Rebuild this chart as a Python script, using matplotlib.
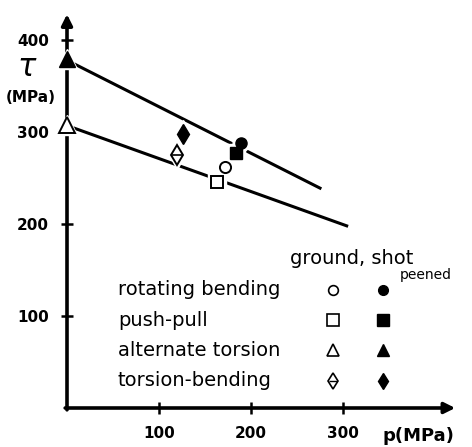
import matplotlib
matplotlib.use("Agg")
import matplotlib.pyplot as plt

# fatigue limit tau vs hydrostatic pressure p (MPa)
kinds = ["rotating bending", "push-pull", "alternate torsion", "torsion-bending"]
ground_p = [172, 163, 0, 120]
ground_tau = [262, 246, 308, 275]
peened_p = [189, 184, 0, 126]
peened_tau = [288, 277, 379, 298]

# hand-drawn trend lines
upper_p = [0, 275]
upper_tau = [378, 239]
lower_p = [0, 304]
lower_tau = [307, 198]

xticks = [100, 200, 300]
yticks = [100, 200, 300, 400]

open_style = [("o", 8), ("s", 9), ("^", 11), ("d", 10)]
key_size = [("o", 7), ("s", 9), ("^", 9), ("d", 8)]

fig = plt.figure(figsize=(4.72, 4.47), dpi=100)
ax = fig.add_axes([67 / 472, 39 / 447, 395 / 472, 403 / 447])
ax.set_xlim(0, 395 / 0.92)
ax.set_ylim(0, 403 / 0.92)
for s in ax.spines.values():
    s.set_visible(False)

# axes with arrows
ax.annotate("", xy=(422, 0), xytext=(-2, 0), annotation_clip=False,
            arrowprops=dict(arrowstyle="-|>", lw=2.6, color="k", mutation_scale=16, shrinkA=0, shrinkB=0))
ax.annotate("", xy=(0, 428), xytext=(0, -2), annotation_clip=False,
            arrowprops=dict(arrowstyle="-|>", lw=2.6, color="k", mutation_scale=16, shrinkA=0, shrinkB=0))

ax.set_xticks(xticks)
ax.set_yticks(yticks)
ax.tick_params(direction="inout", length=8, width=1.8, pad=9)
for lab in ax.get_xticklabels() + ax.get_yticklabels():
    lab.set_fontweight("bold")
    lab.set_fontsize(11)

ax.plot(upper_p, upper_tau, color="k", lw=2.2, zorder=2)
ax.plot(lower_p, lower_tau, color="k", lw=2.2, zorder=2)

# white halos so the lines break around the symbols
for i, (m, ms) in enumerate(open_style):
    for px, py in [(ground_p[i], ground_tau[i]), (peened_p[i], peened_tau[i])]:
        ax.plot(px, py, marker=m, ms=ms + 4, color="white", mec="white", zorder=3, clip_on=False)
for i, (m, ms) in enumerate(open_style):
    ax.plot(ground_p[i], ground_tau[i], marker=m, ms=ms, mfc="white", mec="k", mew=1.4, zorder=4, clip_on=False)
    ax.plot(peened_p[i], peened_tau[i], marker=m, ms=ms, color="k", zorder=4, clip_on=False)
ax.plot(ground_p[3], ground_tau[3], marker="_", ms=7, mew=1.2, color="k", zorder=5)

# key
fs = 14
row_y = 0.293
for i, name in enumerate(kinds):
    y = row_y - 0.075 * i
    ax.text(0.129, y, name, transform=ax.transAxes, fontsize=fs, va="center", ha="left")
    m, ms = key_size[i]
    ax.plot(0.673, y, marker=m, ms=ms, mfc="white", mec="k", mew=1.2, transform=ax.transAxes, clip_on=False)
    ax.plot(0.80, y, marker=m, ms=ms, color="k", transform=ax.transAxes, clip_on=False)
    if m == "d":
        ax.plot(0.673, y, marker="_", ms=6, mew=1.0, color="k", transform=ax.transAxes, clip_on=False)
ax.text(0.72, 0.372, "ground, shot", transform=ax.transAxes, fontsize=fs, ha="center", va="center")
ax.text(0.843, 0.33, "peened", transform=ax.transAxes, fontsize=10, ha="left", va="center")

# axis labels
fig.text(27 / 472, 1 - 68 / 447, r"$\tau$", fontsize=22, ha="center", va="center")
fig.text(31 / 472, 1 - 97 / 447, "(MPa)", fontsize=11, fontweight="bold", ha="center", va="center")
fig.text(418 / 472, 1 - 436 / 447, "p(MPa)", fontsize=13, fontweight="bold", ha="center", va="center")

fig.savefig("out.png", dpi=100)
